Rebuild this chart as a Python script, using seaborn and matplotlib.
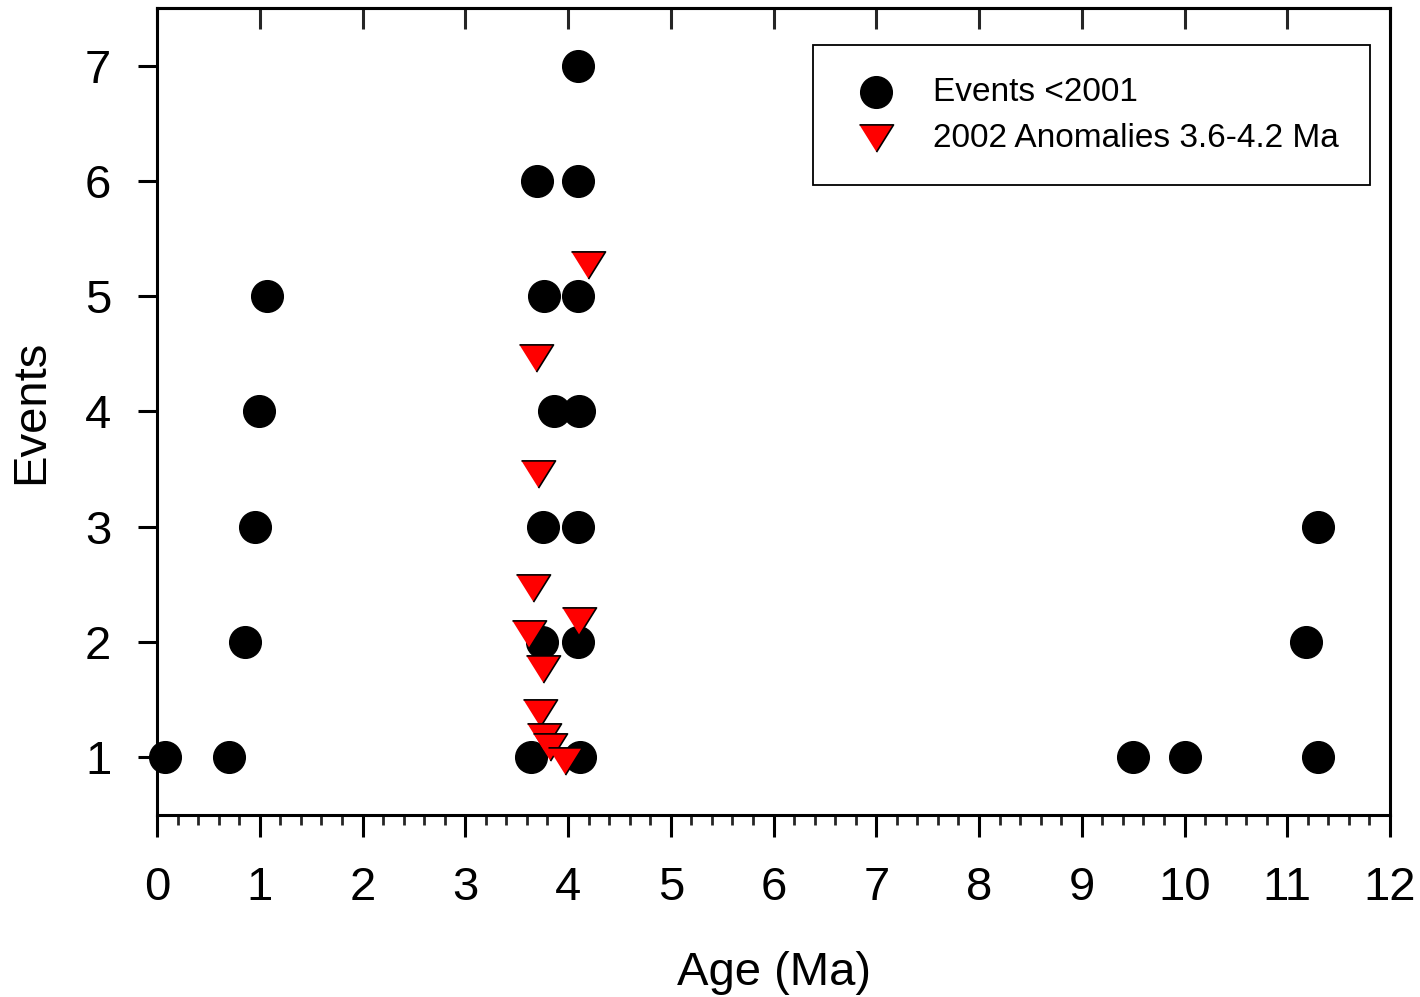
import numpy as np
import pandas as pd
import matplotlib
matplotlib.use("Agg")
import matplotlib.pyplot as plt
from matplotlib.ticker import MultipleLocator
import seaborn as sns

# Events recorded before 2001 (age in Ma, event number)
events_age = [0.08, 0.70, 0.86, 0.95, 0.99, 1.07,
              3.64, 3.75, 3.76, 3.86, 3.77, 3.70,
              4.12, 4.10, 4.10, 4.11, 4.10, 4.10, 4.10,
              9.50, 10.00, 11.30, 11.18, 11.30]
events_n = [1, 1, 2, 3, 4, 5,
            1, 2, 3, 4, 5, 6,
            1, 2, 3, 4, 5, 6, 7,
            1, 1, 1, 2, 3]

# 2002 anomalies in the 3.6-4.2 Ma window
anom_age = [4.19, 3.69, 3.71, 3.66, 3.62, 4.11, 3.76, 3.73, 3.77, 3.82, 3.97]
anom_n = [5.27, 4.46, 3.46, 2.47, 2.07, 2.18, 1.77, 1.38, 1.18, 1.09, 0.97]

x_ticks = list(range(0, 13))
y_ticks = list(range(1, 8))

events = pd.DataFrame({"Age": events_age, "Events": events_n})
anomalies = pd.DataFrame({"Age": anom_age, "Events": anom_n})

sns.set_theme(style="ticks")
plt.rcParams["font.family"] = ["Liberation Sans", "DejaVu Sans"]
plt.rcParams["text.color"] = "black"
plt.rcParams["axes.labelcolor"] = "black"

fig = plt.figure(figsize=(14.2, 9.97), dpi=100)
ax = fig.add_axes([0.1106, 0.1826, 0.8683, 0.8094])

tri = [(-1, 0.8), (1, 0.8), (0, -0.8)]

sns.scatterplot(data=events, x="Age", y="Events", ax=ax, marker="o", s=520,
                color="black", edgecolor="black", linewidth=1,
                label="Events <2001", clip_on=False, zorder=3)
sns.scatterplot(data=anomalies, x="Age", y="Events", ax=ax, marker=tri, s=600,
                color="#ff0000", edgecolor="black", linewidth=1.2,
                label="2002 Anomalies 3.6-4.2 Ma", clip_on=False, zorder=4)

ax.set_xlim(0, 12)
ax.set_ylim(0.5, 7.5)
ax.set_xticks(x_ticks)
ax.set_yticks(y_ticks)
ax.xaxis.set_minor_locator(MultipleLocator(0.2))

for side in ["left", "right", "top", "bottom"]:
    ax.spines[side].set_visible(True)
    ax.spines[side].set_linewidth(2.2)
    ax.spines[side].set_color("black")

ax.tick_params(axis="x", which="major", direction="out", length=16, width=2.2,
               labelsize=34, pad=21, colors="black", top=False)
ax.tick_params(axis="x", which="minor", direction="out", length=7, width=2.0,
               top=False)
ax.tick_params(axis="y", which="major", direction="out", length=14, width=2.2,
               labelsize=34, pad=19, colors="black", right=False)

# inward major ticks along the top edge
top = ax.secondary_xaxis("top")
top.set_xticks(x_ticks)
top.tick_params(direction="in", length=15, width=2.2, labeltop=False)
top.spines["top"].set_linewidth(2.2)

ax.set_xlabel("Age (Ma)", fontsize=34, labelpad=29)
ax.set_ylabel("Events", fontsize=34, labelpad=23)

leg = ax.legend(loc="upper right", bbox_to_anchor=(0.9838, 0.9542),
                borderaxespad=0, fontsize=24, frameon=True, fancybox=False,
                edgecolor="black", framealpha=1, borderpad=0.95,
                handletextpad=0.75, labelspacing=0.45, handlelength=1.9)
leg.get_frame().set_linewidth(1.3)

fig.savefig("out.png", dpi=100)
